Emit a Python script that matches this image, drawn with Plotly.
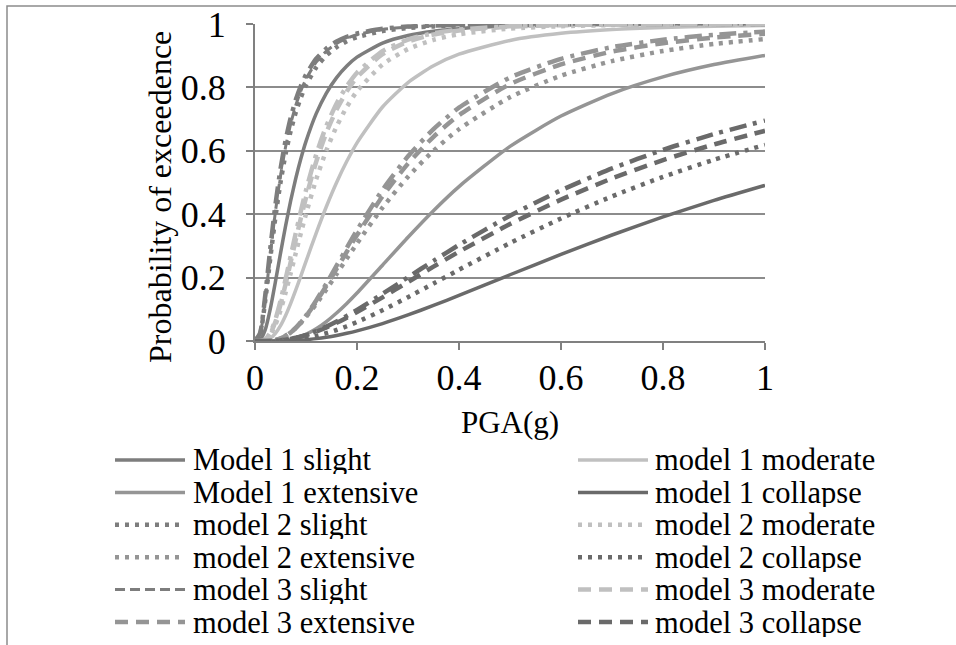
import plotly.graph_objects as go

# ---------------- data ----------------
pga = [0, 0.01, 0.02, 0.03, 0.04, 0.05, 0.06, 0.07, 0.08, 0.09, 0.1, 0.12, 0.14, 0.16,
       0.18, 0.2, 0.25, 0.3, 0.35, 0.4, 0.5, 0.6, 0.7, 0.8, 0.9, 1.0]

m1_slight = [0, 0.0031, 0.0348, 0.1012, 0.1865, 0.2766, 0.3632, 0.4427, 0.5134, 0.5757, 0.6297, 0.7171, 0.7823,
             0.8310, 0.8675, 0.8953, 0.9398, 0.9637, 0.9773, 0.9853, 0.9934, 0.9967, 0.9983, 0.9990, 0.9994, 0.9997]
m1_moderate = [0, 0.0000, 0.0015, 0.0084, 0.0238, 0.0483, 0.0806, 0.1188, 0.1611, 0.2056, 0.2511, 0.3405, 0.4243,
               0.5000, 0.5668, 0.6251, 0.7382, 0.8154, 0.8682, 0.9047, 0.9482, 0.9705, 0.9825, 0.9892, 0.9932, 0.9956]
m1_extensive = [0, 0, 0, 0.0001, 0.0004, 0.0012, 0.0028, 0.0055, 0.0094, 0.0146, 0.0212, 0.0386, 0.0612,
                0.0882, 0.1184, 0.1513, 0.2391, 0.3275, 0.4112, 0.4872, 0.6139, 0.7096, 0.7806, 0.8332, 0.8720, 0.9011]
m1_collapse = [0, 0, 0, 0, 0.0001, 0.0003, 0.0006, 0.0012, 0.0019, 0.0029, 0.0042, 0.0075, 0.0120,
               0.0176, 0.0244, 0.0321, 0.0550, 0.0821, 0.1121, 0.1437, 0.2090, 0.2733, 0.3344, 0.3913, 0.4435, 0.4910]

m2_slight = [0, 0.0222, 0.1264, 0.2620, 0.3906, 0.5002, 0.5904, 0.6630, 0.7216, 0.7685, 0.8067, 0.8632, 0.9010,
             0.9269, 0.9454, 0.9584, 0.9778, 0.9874, 0.9925, 0.9953, 0.9980, 0.9991, 0.9996, 0.9997, 0.9998, 0.9999]
m2_moderate = [0, 0.0001, 0.0036, 0.0191, 0.0507, 0.0965, 0.1527, 0.2143, 0.2777, 0.3406, 0.4006, 0.5100, 0.6017,
               0.6771, 0.7383, 0.7878, 0.8719, 0.9210, 0.9499, 0.9676, 0.9856, 0.9931, 0.9965, 0.9981, 0.9990, 0.9994]
m2_extensive = [0, 0, 0.0002, 0.0011, 0.0037, 0.0088, 0.0167, 0.0275, 0.0411, 0.0571, 0.0755, 0.1167, 0.1628,
                0.2111, 0.2601, 0.3078, 0.4207, 0.5182, 0.6004, 0.6679, 0.7690, 0.8369, 0.8830, 0.9147, 0.9369, 0.9526]
m2_collapse = [0, 0, 0, 0.0001, 0.0003, 0.0008, 0.0016, 0.0028, 0.0044, 0.0066, 0.0092, 0.0159, 0.0246,
               0.0347, 0.0465, 0.0598, 0.0968, 0.1382, 0.1813, 0.2248, 0.3089, 0.3867, 0.4562, 0.5177, 0.5718, 0.6187]

m3_slight = [0, 0.0222, 0.1310, 0.2733, 0.4076, 0.5207, 0.6125, 0.6854, 0.7435, 0.7898, 0.8263, 0.8795, 0.9147,
             0.9384, 0.9548, 0.9662, 0.9827, 0.9905, 0.9945, 0.9967, 0.9987, 0.9994, 0.9997, 0.9998, 0.9999, 0.9999]
m3_moderate = [0, 0.0001, 0.0042, 0.0227, 0.0606, 0.1146, 0.1795, 0.2491, 0.3197, 0.3879, 0.4523, 0.5653, 0.6574,
               0.7302, 0.7875, 0.8319, 0.9050, 0.9447, 0.9668, 0.9795, 0.9917, 0.9963, 0.9982, 0.9991, 0.9995, 0.9997]
m3_extensive = [0, 0, 0.0001, 0.0008, 0.0032, 0.0080, 0.0159, 0.0270, 0.0413, 0.0584, 0.0781, 0.1235, 0.1744,
                0.2276, 0.2815, 0.3341, 0.4562, 0.5596, 0.6442, 0.7124, 0.8103, 0.8725, 0.9130, 0.9393, 0.9571, 0.9692]
m3_collapse = [0, 0, 0.0001, 0.0003, 0.0010, 0.0022, 0.0041, 0.0066, 0.0098, 0.0137, 0.0183, 0.0293, 0.0424,
               0.0573, 0.0737, 0.0911, 0.1377, 0.1862, 0.2345, 0.2816, 0.3688, 0.4459, 0.5128, 0.5706, 0.6202, 0.6631]

# fourth set of curves (dash-dot) whose legend rows fall below the visible crop
m4_slight = [0, 0.0253, 0.1431, 0.2921, 0.4290, 0.5426, 0.6331, 0.7045, 0.7609, 0.8049, 0.8402, 0.8903, 0.9230,
             0.9450, 0.9597, 0.9702, 0.9849, 0.9919, 0.9953, 0.9972, 0.9989, 0.9995, 0.9998, 0.9999, 0.9999, 1.0]
m4_moderate = [0, 0.0001, 0.0050, 0.0262, 0.0678, 0.1266, 0.1955, 0.2685, 0.3410, 0.4107, 0.4757, 0.5886, 0.6789,
               0.7493, 0.8039, 0.8464, 0.9146, 0.9508, 0.9710, 0.9823, 0.9929, 0.9969, 0.9986, 0.9993, 0.9996, 0.9998]
m4_extensive = [0, 0, 0.0001, 0.0007, 0.0029, 0.0076, 0.0156, 0.0269, 0.0416, 0.0595, 0.0800, 0.1279, 0.1813,
                0.2375, 0.2941, 0.3495, 0.4765, 0.5828, 0.6684, 0.7360, 0.8314, 0.8902, 0.9269, 0.9505, 0.9659, 0.9761]
m4_collapse = [0, 0, 0.0001, 0.0003, 0.0010, 0.0022, 0.0041, 0.0068, 0.0102, 0.0144, 0.0193, 0.0312, 0.0454,
               0.0616, 0.0793, 0.0982, 0.1487, 0.2011, 0.2530, 0.3031, 0.3953, 0.4755, 0.5443, 0.6029, 0.6527, 0.6952]

tick_vals = [0, 0.2, 0.4, 0.6, 0.8, 1]
tick_text = ["0", "0.2", "0.4", "0.6", "0.8", "1"]
x_title = "PGA(g)"
y_title = "Probability of exceedence"

# ---------------- styles ----------------
C_SLIGHT, C_MOD, C_EXT, C_COL = "#7d7d7d", "#c0c0c0", "#959595", "#6a6a6a"
S_SOLID = dict(width=3.5, dash="solid")
S_DOT = dict(width=4.5, dash="4px,6px")
S_DASH = dict(width=4.5, dash="13px,8px")
S_DASH_THIN = dict(width=3, dash="10px,5px")
S_DASHDOT = dict(width=4.5, dash="17px,7px,4px,7px")

series = [
    ("Model 1 slight", m1_slight, C_SLIGHT, S_SOLID, True),
    ("model 1 moderate", m1_moderate, C_MOD, S_SOLID, True),
    ("Model 1 extensive", m1_extensive, C_EXT, S_SOLID, True),
    ("model 1 collapse", m1_collapse, C_COL, S_SOLID, True),
    ("model 2 slight", m2_slight, C_SLIGHT, S_DOT, True),
    ("model 2 moderate", m2_moderate, C_MOD, S_DOT, True),
    ("model 2 extensive", m2_extensive, C_EXT, S_DOT, True),
    ("model 2 collapse", m2_collapse, C_COL, S_DOT, True),
    ("model 3 slight", m3_slight, C_SLIGHT, S_DASH_THIN, True),
    ("model 3 moderate", m3_moderate, C_MOD, S_DASH, True),
    ("model 3 extensive", m3_extensive, C_EXT, S_DASH, True),
    ("model 3 collapse", m3_collapse, C_COL, S_DASH, True),
    ("model 4 slight", m4_slight, C_SLIGHT, S_DASHDOT, False),
    ("model 4 moderate", m4_moderate, C_MOD, S_DASHDOT, False),
    ("model 4 extensive", m4_extensive, C_EXT, S_DASHDOT, False),
    ("model 4 collapse", m4_collapse, C_COL, S_DASHDOT, False),
]

FONT = "Liberation Serif, Times New Roman, serif"
W, H = 956, 645
L, R, T, B = 255, 191, 24, 304
PW, PH = W - L - R, H - T - B


def px_x(px):
    return (px - L) / PW


def px_y(py):
    return (H - B - py) / PH


fig = go.Figure()
for name, vals, color, st, _ in series:
    fig.add_trace(go.Scatter(
        x=pga, y=vals, name=name, mode="lines", showlegend=False,
        line=dict(color=color, width=st["width"], dash=st["dash"], shape="spline", smoothing=0.6),
    ))

shapes = []
annotations = []
# hand-laid legend: two columns, row-major order like the original
row_y = [460 + 32.4 * k for k in range(6)]
col_line = [(115, 185), (578, 648)]
col_text = [192, 654]
visible = [s for s in series if s[4]]
for i, (name, vals, color, st, _) in enumerate(visible):
    r, c = divmod(i, 2)
    yy = px_y(row_y[r])
    shapes.append(dict(type="line", xref="paper", yref="paper",
                       x0=px_x(col_line[c][0]), x1=px_x(col_line[c][1]), y0=yy, y1=yy,
                       line=dict(color=color, width=st["width"], dash=st["dash"])))
    annotations.append(dict(text=name, xref="paper", yref="paper", x=px_x(col_text[c]), y=yy,
                            xanchor="left", yanchor="middle", showarrow=False, height=29,
                            borderpad=0, valign="middle",
                            font=dict(family=FONT, size=30.5, color="black")))

# y-axis title placed where the original has it (slightly below the plot centre)
annotations.append(dict(text=y_title, xref="paper", yref="paper", x=px_x(160), y=px_y(197),
                        xanchor="center", yanchor="middle", textangle=-90, showarrow=False,
                        font=dict(family=FONT, size=32, color="black")))

# outer chart frame (right and bottom edges fall outside the crop)
shapes.append(dict(type="rect", xref="paper", yref="paper", layer="below",
                   x0=px_x(7), x1=px_x(1100), y0=px_y(800), y1=px_y(6),
                   line=dict(color="#8c8c8c", width=1.5), fillcolor="rgba(0,0,0,0)"))

axis_common = dict(
    range=[0, 1], tickvals=tick_vals, ticktext=tick_text, ticks="outside", ticklen=7,
    tickwidth=1.5, tickcolor="#808080", showline=True, linecolor="#808080", linewidth=2,
    zeroline=False, tickfont=dict(family=FONT, size=36, color="black"), fixedrange=True,
    automargin=False,
)

fig.update_layout(
    width=W, height=H, margin=dict(l=L, r=R, t=T, b=B, pad=0, autoexpand=False),
    paper_bgcolor="white", plot_bgcolor="white",
    font=dict(family=FONT, size=31, color="black"),
    xaxis=dict(axis_common, showgrid=False, ticklabelstandoff=-3,
               title=dict(text=x_title, font=dict(family=FONT, size=31, color="black"), standoff=14)),
    yaxis=dict(axis_common, showgrid=True, gridcolor="#8c8c8c", gridwidth=1.5,
               ticklabelstandoff=13),
    shapes=shapes, annotations=annotations, showlegend=False,
)

fig.write_html(
    "out.html",
    config={"displayModeBar": False},
    post_script="document.body.style.margin='0';document.body.style.padding='0';"
                "document.body.style.overflow='hidden';",
)
